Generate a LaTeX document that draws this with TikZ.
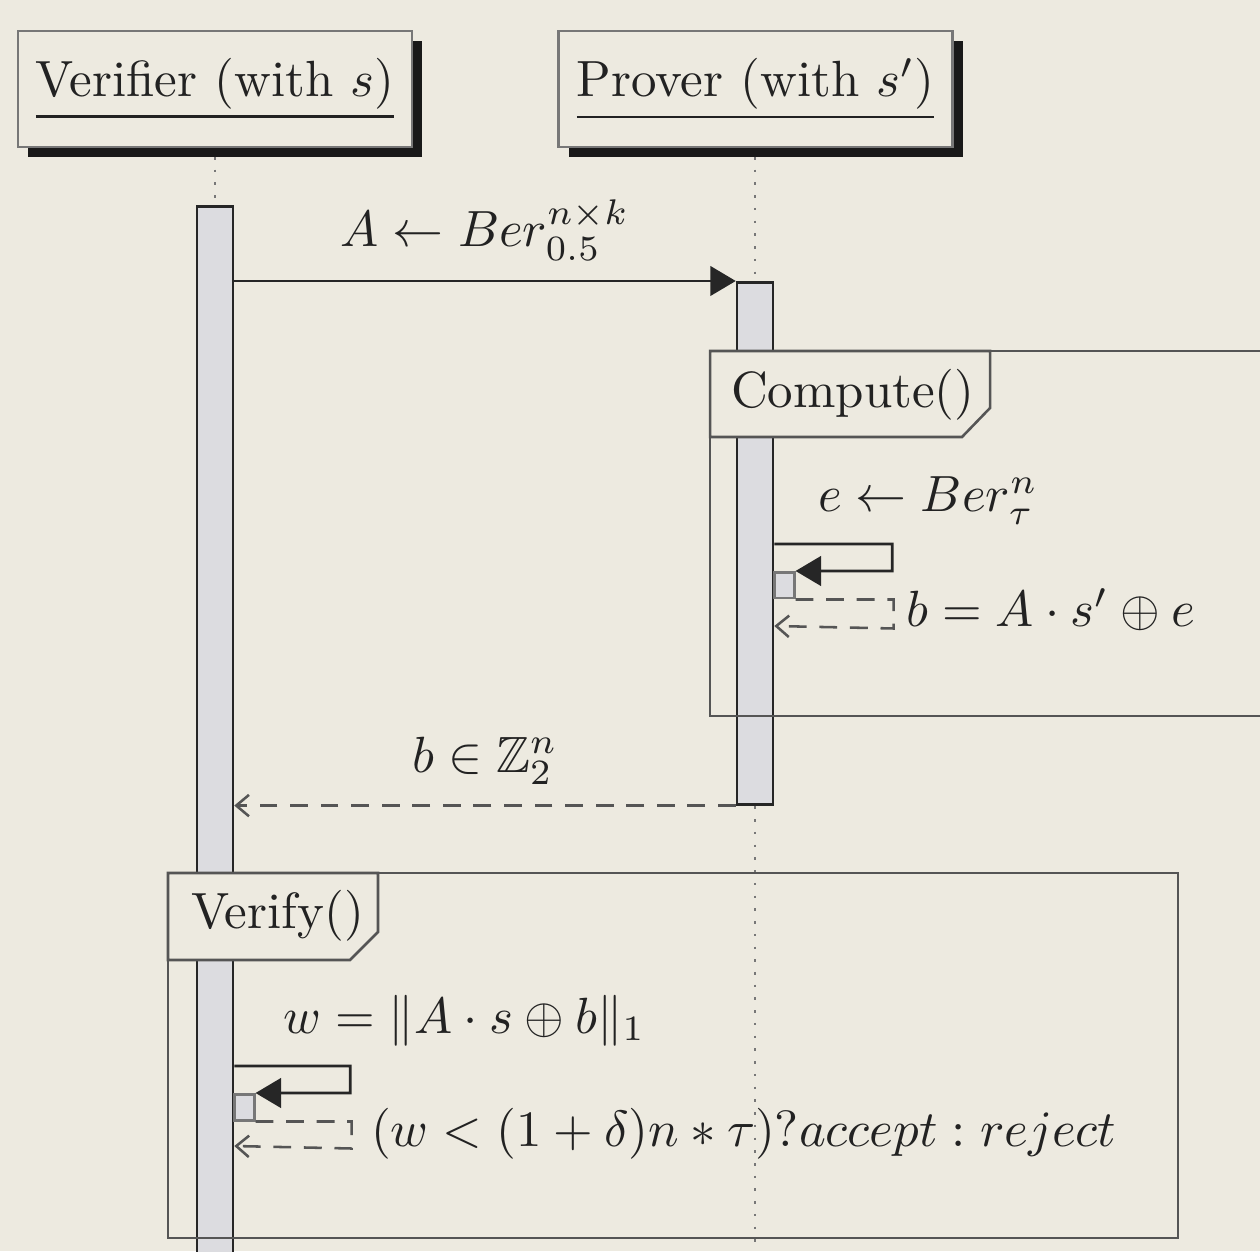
\documentclass[tikz,border=0pt]{standalone}
\usepackage{amssymb}
\usetikzlibrary{arrows.meta,positioning,shadows}
\definecolor{sdpaper}{HTML}{EDEAE0}
\definecolor{sdbar}{HTML}{DCDCE0}
\definecolor{sdline}{HTML}{555555}
\definecolor{sdink}{HTML}{222222}

\begin{document}
\begin{tikzpicture}[x=0.69cm, y=0.69cm,
  objbox/.style={draw=sdline!80, fill=sdpaper, line width=0.5pt,
                 minimum width=2.72cm, minimum height=0.80cm, text=sdink,
                 drop shadow={shadow xshift=2pt, shadow yshift=-2pt,
                              fill=black!90, opacity=1}},
  lifeline/.style={dotted, sdline!80, line width=0.5pt},
  actbar/.style={draw=black!85, fill=sdbar, line width=0.5pt,
                 minimum width=0.248cm, inner sep=0pt},
  subbar/.style={draw=sdline!80, fill=sdbar, line width=0.5pt,
                 minimum width=0.138cm, minimum height=0.179cm, inner sep=0pt,
                 anchor=north west},
  call/.style={-{Triangle[length=5pt, width=5.8pt]}, black!85, line width=0.5pt},
  reply/.style={-{Straight Barb[length=2.5pt, width=4.2pt]}, sdline,
                dash pattern=on 3.5pt off 2.5pt, line width=0.5pt},
  msglbl/.style={text=sdink},
  sidelbl/.style={text=sdink, inner sep=0pt, anchor=base west},
  framebox/.style={draw=sdline, line width=0.5pt},
  tab/.style={fill=sdpaper, draw=sdline, line width=0.5pt},
]

%% ---- page ----
\useasboundingbox (0,0) rectangle (12.6,-12.51);
\fill[sdpaper] (0,0) rectangle (12.6,-12.51);

%% ---- objects ----
\node[objbox] (ver) at (2.15,-0.89) {\underline{Verifier (with $s$)}};
\node[objbox] (pro) at (7.555,-0.89) {\underline{Prover (with $s'$)}};

%% ---- lifelines ----
\coordinate (vend) at (2.15,-12.6);
\coordinate (pend) at (7.55,-12.6);
\draw[lifeline] (2.15,-1.57) -- (vend);
\draw[lifeline] (7.55,-1.57) -- (pend);

%% ---- activations ----
\node[actbar, anchor=north, minimum height=7.354cm] (vbar) at (2.15,-2.05) {};
\node[actbar, anchor=north, minimum height=3.602cm] (pbar) at (7.55,-2.81) {};

%% ---- request ----
\draw[call] (vbar.east |- pbar.north) -- node[msglbl, above=0.5pt] (reqlbl)
  {$A \leftarrow Ber^{n\times k}_{0.5}$} (pbar.north west);

%% ---- Compute() frame ----
\draw[framebox] (7.10,-3.51) rectangle (13.2,-7.16);
\draw[tab] (7.10,-3.51) -- (9.90,-3.51) -- (9.90,-4.08) -- (9.62,-4.37)
  -- (7.10,-4.37) -- cycle;
\node[sidelbl] (cmplbl) at (7.30,-4.08) {Compute()};

% e <- Ber, then b
\node[subbar] (psub) at (7.73,-5.71) {};
\draw[call] (pbar.east |- 0,-5.44) -- ++(1.18,0) -- ++(0,-0.27) -- (psub.north east);
\node[sidelbl] (elbl) at (8.17,-5.12) {$e \leftarrow Ber^{n}_{\tau}$};
\draw[reply] (psub.south east) -- ++(0.98,0) -- ++(0,-0.29) -- (pbar.east |- 0,-6.26);
\node[sidelbl] (blbl) at (9.05,-6.27) {$b = A\cdot s' \oplus e$};

%% ---- response ----
\draw[reply] (pbar.south west) -- node[msglbl, above=0.5pt] (reslbl)
  {$b \in \mathbb{Z}_2^n$} (vbar.east |- pbar.south);

%% ---- Verify() frame ----
\draw[framebox] (1.68,-8.73) rectangle (11.78,-12.38);
\draw[tab] (1.68,-8.73) -- (3.78,-8.73) -- (3.78,-9.32) -- (3.50,-9.60)
  -- (1.68,-9.60) -- cycle;
\node[sidelbl] (vrflbl) at (1.90,-9.28) {Verify()};

% w, then decision
\node[subbar] (vsub) at (2.33,-10.93) {};
\draw[call] (vbar.east |- 0,-10.66) -- ++(1.16,0) -- ++(0,-0.27) -- (vsub.north east);
\node[sidelbl] (wlbl) at (2.82,-10.33) {$w = \|A\cdot s \oplus b\|_1$};
\draw[reply] (vsub.south east) -- ++(0.96,0) -- ++(0,-0.27) -- (vbar.east |- 0,-11.46);
\node[sidelbl] (declbl) at (3.70,-11.46)
  {$(w < (1+\delta)n*\tau)?accept:reject$};

\end{tikzpicture}
\end{document}
